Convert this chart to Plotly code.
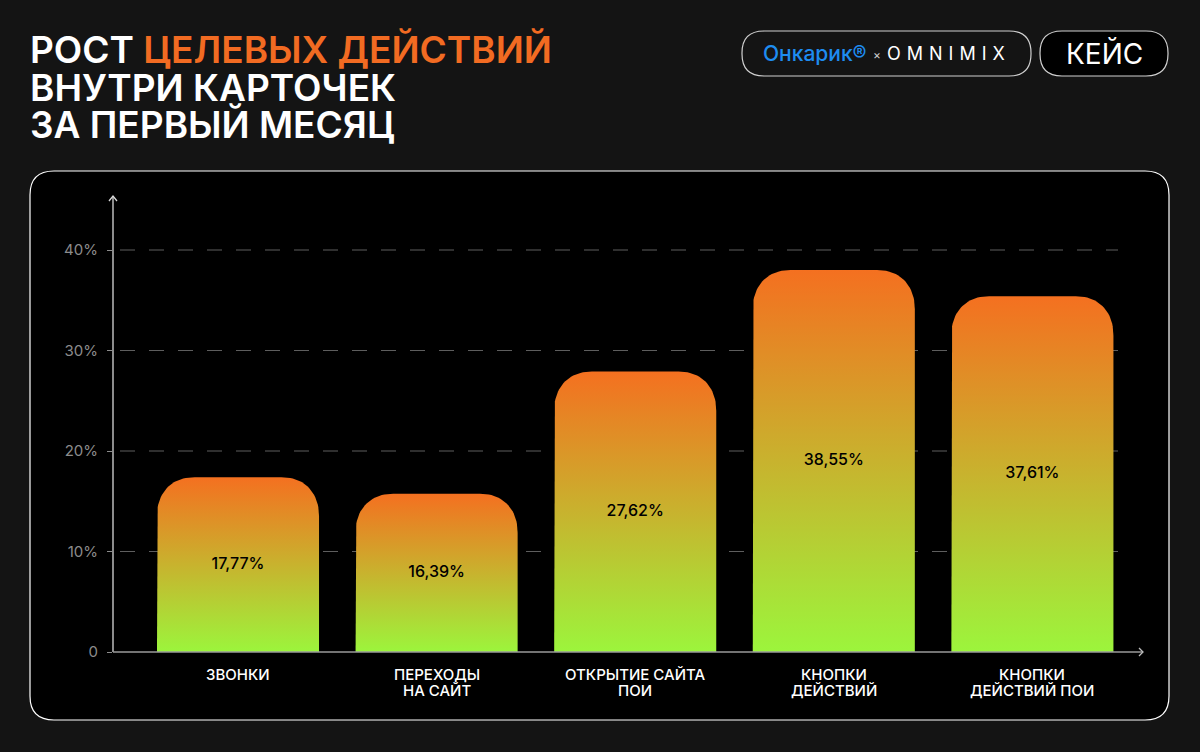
import numpy as np
import plotly.graph_objects as go

# Data
categories = ["ЗВОНКИ", "ПЕРЕХОДЫ\nНА САЙТ", "ОТКРЫТИЕ САЙТА\nПОИ", "КНОПКИ\nДЕЙСТВИЙ", "КНОПКИ\nДЕЙСТВИЙ ПОИ"]
bar_heights = [17.4, 15.75, 27.9, 38.0, 35.4]          # as drawn against the axis
value_labels = ["17,77%", "16,39%", "27,62%", "38,55%", "37,61%"]
y_tickvals = [0, 10, 20, 30, 40]
y_ticktext = ["0", "10%", "20%", "30%", "40%"]

W, H = 1200, 752
BG = "#141414"
ORANGE = "#F47020"
GREEN = "#9CF53C"


def fx(px):
    return px / W


def fy(py):
    return 1 - py / H


def rounded_rect(x0, y0, x1, y1, r):
    # rounded rectangle path in paper coords, built from pixel values
    pts = [
        f"M{fx(x0 + r)},{fy(y0)}", f"L{fx(x1 - r)},{fy(y0)}", f"Q{fx(x1)},{fy(y0)} {fx(x1)},{fy(y0 + r)}",
        f"L{fx(x1)},{fy(y1 - r)}", f"Q{fx(x1)},{fy(y1)} {fx(x1 - r)},{fy(y1)}",
        f"L{fx(x0 + r)},{fy(y1)}", f"Q{fx(x0)},{fy(y1)} {fx(x0)},{fy(y1 - r)}",
        f"L{fx(x0)},{fy(y0 + r)}", f"Q{fx(x0)},{fy(y0)} {fx(x0 + r)},{fy(y0)}", "Z",
    ]
    return " ".join(pts)


def bar_outline(xc, h, width=0.816, rx=0.19, ry=3.9, n=2.2):
    # soft "squircle" top corners
    t = np.linspace(0, np.pi / 2, 24)
    left, right = xc - width / 2, xc + width / 2
    xs, ys = [left, left], [0, h - ry]
    for tt in t:
        xs.append(left + rx - rx * np.cos(tt) ** (2 / n))
        ys.append(h - ry + ry * np.sin(tt) ** (2 / n))
    for tt in t[::-1]:
        xs.append(right - rx + rx * np.cos(tt) ** (2 / n))
        ys.append(h - ry + ry * np.sin(tt) ** (2 / n))
    xs += [right, left]
    ys += [0, 0]
    return xs, ys


xpos = list(range(len(categories)))

fig = go.Figure()

for i, h in zip(xpos, bar_heights):
    bx, by = bar_outline(i, h)
    fig.add_trace(go.Scatter(
        x=bx, y=by, mode="lines", fill="toself",
        line=dict(width=0, color="rgba(0,0,0,0)"),
        fillgradient=dict(type="vertical", colorscale=[[0, GREEN], [1, ORANGE]]),
        hoverinfo="skip", showlegend=False))

fig.add_trace(go.Scatter(
    x=xpos, y=[h / 2 for h in bar_heights], mode="text", text=value_labels,
    textfont=dict(family="Inter", size=16, color="#000000", weight=500),
    hoverinfo="skip", showlegend=False))

shapes = []
# inner black panel
shapes.append(dict(type="path", xref="paper", yref="paper", layer="below",
                   path=rounded_rect(30, 171, 1169, 720, 24),
                   fillcolor="#000000", line=dict(color="#ffffff", width=1.2)))
# dashed grid lines
for v in y_tickvals[1:]:
    shapes.append(dict(type="line", xref="paper", yref="y", layer="below",
                       x0=fx(120), x1=fx(1118), y0=v, y1=v,
                       line=dict(color="#5e5e5e", width=1, dash="15px,14px")))
# axes with arrows
shapes.append(dict(type="line", xref="paper", yref="paper", x0=fx(113), x1=fx(113), y0=fy(652), y1=fy(196),
                   line=dict(color="#d9d9d9", width=1.3)))
shapes.append(dict(type="path", xref="paper", yref="paper",
                   path=f"M{fx(109)},{fy(201)} L{fx(113)},{fy(196)} L{fx(117)},{fy(201)}",
                   line=dict(color="#d9d9d9", width=1.3)))
shapes.append(dict(type="line", xref="paper", yref="paper", x0=fx(113), x1=fx(1143), y0=fy(652), y1=fy(652),
                   line=dict(color="#9a9a9a", width=1.6)))
shapes.append(dict(type="path", xref="paper", yref="paper",
                   path=f"M{fx(1139)},{fy(648)} L{fx(1143)},{fy(652)} L{fx(1139)},{fy(656)}",
                   line=dict(color="#bdbdbd", width=1.3)))
# logo pills
shapes.append(dict(type="path", xref="paper", yref="paper", path=rounded_rect(742, 31, 1031, 76, 22),
                   fillcolor=BG, line=dict(color="#d0d0d0", width=1.2)))
shapes.append(dict(type="path", xref="paper", yref="paper", path=rounded_rect(1040, 31, 1168, 76, 22),
                   fillcolor="#000000", line=dict(color="#d0d0d0", width=1.2)))


def note(text, px, py, font, xanchor="center"):
    return dict(text=text, x=fx(px), y=fy(py), xref="paper", yref="paper",
                xanchor=xanchor, yanchor="middle", showarrow=False, font=font)


annotations = []
title_font = dict(family="Inter", size=37, color="#ffffff", weight=600)
title_lines = [
    "РОСТ <span style='color:#F26B22'>ЦЕЛЕВЫХ ДЕЙСТВИЙ</span>",
    "ВНУТРИ КАРТОЧЕК",
    "ЗА ПЕРВЫЙ МЕСЯЦ",
]
for k, line in enumerate(title_lines):
    annotations.append(note(line, 28, 50 + 37.5 * k, title_font, xanchor="left"))

annotations.append(note("Онкарик®", 815, 54,
                        dict(family="Inter", size=21, color="#1E8CF0", weight=500)))
annotations.append(note("×", 877, 55, dict(family="Inter", size=12, color="#cccccc")))
annotations.append(note("\u2004".join("OMNIMIX"), 946, 54,
                        dict(family="Inter", size=18, color="#ffffff", weight=400)))
annotations.append(note("КЕЙС", 1104, 54, dict(family="Inter", size=28, color="#ffffff", weight=400)))

# category labels, one annotation per line
for i, cat in zip(xpos, categories):
    for k, part in enumerate(cat.split("\n")):
        annotations.append(dict(text=part, x=i, xref="x", y=fy(674 + 16.5 * k), yref="paper",
                                xanchor="center", yanchor="middle", showarrow=False,
                                font=dict(family="Inter", size=15, color="#ffffff", weight=500)))

fig.update_layout(
    width=W, height=H,
    margin=dict(l=0, r=0, t=0, b=0, pad=0),
    paper_bgcolor=BG, plot_bgcolor="rgba(0,0,0,0)",
    showlegend=False,
    shapes=shapes, annotations=annotations,
    xaxis=dict(domain=[fx(113), fx(1143)], range=[(113 - 238) / 198.6, (1143 - 238) / 198.6],
               automargin=False, ticks="", title=None,
               showgrid=False, zeroline=False, showticklabels=False, showline=False, fixedrange=True),
    yaxis=dict(domain=[fy(652), fy(196)], range=[0, (652 - 196) / 10.05], automargin=False,
               tickvals=y_tickvals, ticktext=y_ticktext, ticks="outside", ticklen=5, tickcolor="#8c8c8c",
               ticklabelstandoff=6,
               tickfont=dict(family="Inter", size=15, color="#8c8c8c"),
               showgrid=False, zeroline=False, showline=False, fixedrange=True),
)

fig.write_html("out.html", config={"displayModeBar": False},
               post_script="document.body.style.margin='0';document.body.style.background='#141414';")
